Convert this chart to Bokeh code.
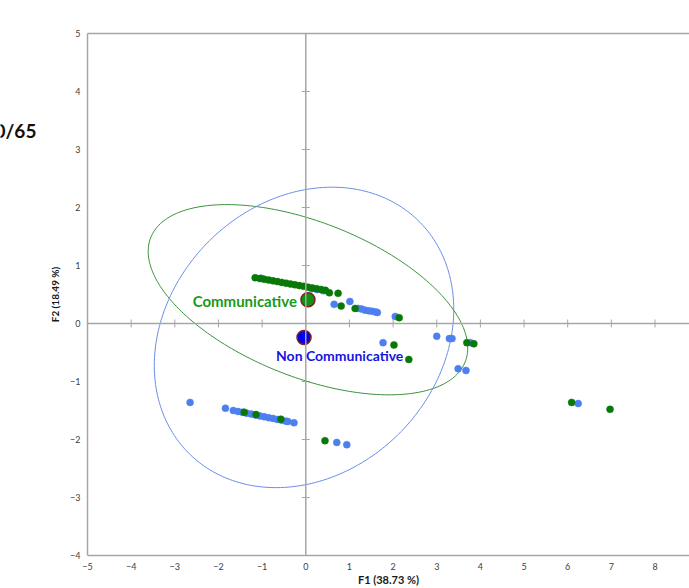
import numpy as np
from bokeh.plotting import figure
from bokeh.layouts import row
from bokeh.models import LinearAxis, Label, Range1d, FixedTicker, Span
from bokeh.core.properties import value
from bokeh.embed import file_html
from bokeh.resources import INLINE

# ---------------- data ----------------
x_ticks = [-5, -4, -3, -2, -1, 0, 1, 2, 3, 4, 5, 6, 7, 8]
y_ticks = [-4, -3, -2, -1, 0, 1, 2, 3, 4, 5]

x_title = "F1 (38.73 %)"
y_title = "F2 (18.49 %)"
side_title = "0/65"

# observations, group "Non Communicative" (blue)
non_x = [-1.02, 0.14, 0.26, 0.40,
         0.65, 1.01, 1.20, 1.28, 1.36, 1.44, 1.52, 1.60, 1.64, 2.05,
         1.77, 3.00, 3.29, 3.35, 3.77, 3.49, 3.67, 6.24,
         -2.65, -1.84, -1.66, -1.55, -1.45, -1.35, -1.25, -1.15, -1.05, -0.95,
         -0.85, -0.75, -0.65, -0.55, -0.45, -0.41, -0.27,
         0.71, 0.94]
non_y = [0.78, 0.60, 0.585, 0.565,
         0.33, 0.38, 0.26, 0.25, 0.23, 0.22, 0.21, 0.20, 0.19, 0.12,
         -0.33, -0.22, -0.26, -0.26, -0.33, -0.78, -0.81, -1.38,
         -1.36, -1.46, -1.50, -1.517, -1.532, -1.547, -1.562, -1.578, -1.593, -1.608,
         -1.623, -1.638, -1.654, -1.669, -1.684, -1.69, -1.71,
         -2.05, -2.09]

# observations, group "Communicative" (green)
comm_x = [-1.16, -1.05, -0.95, -0.85, -0.75, -0.65, -0.55, -0.45, -0.35, -0.25,
          -0.15, -0.05, 0.05, 0.15, 0.25, 0.35, 0.45, 0.54, 0.74,
          0.81, 1.13, 2.14,
          2.02, 2.36, 3.69, 3.85, 6.09, 6.97,
          -1.41, -1.14, -0.57, 0.44]
comm_y = [0.79, 0.775, 0.762, 0.749, 0.735, 0.722, 0.708, 0.695, 0.681, 0.668,
          0.654, 0.641, 0.627, 0.614, 0.600, 0.587, 0.573, 0.53, 0.52,
          0.30, 0.26, 0.10,
          -0.37, -0.62, -0.33, -0.35, -1.36, -1.48,
          -1.53, -1.57, -1.65, -2.02]

# group centroids
centroid_names = ["Communicative", "Non Communicative"]
centroid_x = [0.05, -0.04]
centroid_y = [0.41, -0.24]

# confidence ellipses (std x, std y, covariance), in data units
ell_sx = [3.66, 3.43]
ell_sy = [1.64, 2.59]
ell_cxy = [-3.05, 1.66]

# ---------------- styles ----------------
GREEN_PT = "#087808"
BLUE_PT = "#4d7ff0"
GREEN_ELL = "#3c913c"
BLUE_ELL = "#6a8ee8"
GREEN_TXT = "#1a9a1a"
BLUE_TXT = "#1515e0"
EDGE = "#7f1f1f"
AXIS_GRAY = "#a6a6a6"
FONT = "Lato"

SIDE_W = 40
H = 588
FRAME_TOP = 33
FRAME_BOTTOM = 555

# ---------- narrow strip on the left holding the (cut-off) side title ----------
# its frame is aligned by the row with the main frame, so map page pixels onto it
side = figure(width=SIDE_W, height=H, output_backend="svg", toolbar_location=None,
              title=None, x_range=Range1d(0, SIDE_W),
              y_range=Range1d(FRAME_BOTTOM, FRAME_TOP),
              min_border=0, x_axis_location=None, y_axis_location=None)
side.grid.visible = False
side.outline_line_color = None
side.text(x=[-6], y=[130], text=[side_title], text_align="left", text_baseline="middle",
          text_font=value(FONT), text_font_style="bold", text_font_size="19px",
          text_color="#111111")

# ---------------- main chart ----------------
p = figure(width=689 - SIDE_W, height=H, output_backend="svg", toolbar_location=None,
           x_range=Range1d(-5, 8.79), y_range=Range1d(-4, 5),
           min_border_left=87 - SIDE_W, min_border_right=0, min_border_top=FRAME_TOP,
           min_border_bottom=H - FRAME_BOTTOM, x_axis_location=None, y_axis_location=None)
p.grid.visible = False
p.outline_line_color = None
p.background_fill_color = "white"
p.border_fill_color = "white"

# border axes with labels
bx = LinearAxis(ticker=FixedTicker(ticks=x_ticks))
bx.major_tick_in = 0
bx.major_tick_out = 0
bx.minor_tick_line_color = None
bx.axis_line_color = AXIS_GRAY
bx.axis_line_width = 1.5
bx.major_label_standoff = 7
bx.major_label_text_font = FONT
bx.major_label_text_font_size = "9px"
bx.major_label_text_color = "#404040"
bx.axis_label = x_title
bx.axis_label_standoff = 0
bx.axis_label_text_font = FONT
bx.axis_label_text_font_style = "bold"
bx.axis_label_text_font_size = "11px"
bx.axis_label_text_color = "#1a1a1a"
p.add_layout(bx, "below")

ly = LinearAxis(ticker=FixedTicker(ticks=y_ticks))
ly.major_tick_in = 0
ly.major_tick_out = 0
ly.minor_tick_line_color = None
ly.axis_line_color = AXIS_GRAY
ly.axis_line_width = 1.5
ly.major_label_standoff = 7
ly.major_label_text_font = FONT
ly.major_label_text_font_size = "9px"
ly.major_label_text_color = "#404040"
ly.axis_label = y_title
ly.axis_label_standoff = 6
ly.axis_label_text_font = FONT
ly.axis_label_text_font_style = "bold"
ly.axis_label_text_font_size = "10px"
ly.axis_label_text_color = "#1a1a1a"
p.add_layout(ly, "left")

top = LinearAxis(ticker=FixedTicker(ticks=[]))
top.major_tick_in = 0
top.major_tick_out = 0
top.minor_tick_line_color = None
top.axis_line_color = AXIS_GRAY
top.axis_line_width = 1.5
p.add_layout(top, "above")

# centre cross with tick marks
p.add_layout(Span(location=0, dimension="height", line_color=AXIS_GRAY, line_width=1.5))
p.add_layout(Span(location=0, dimension="width", line_color=AXIS_GRAY, line_width=1.5))
p.scatter(x_ticks, [0] * len(x_ticks), marker="dash", size=8, angle=np.pi / 2,
          line_color=AXIS_GRAY, line_width=1)
p.scatter([0] * len(y_ticks), y_ticks, marker="dash", size=8,
          line_color=AXIS_GRAY, line_width=1)

# ellipses
t = np.linspace(0, 2 * np.pi, 241)
for i, col in enumerate([GREEN_ELL, BLUE_ELL]):
    cov = np.array([[ell_sx[i] ** 2, ell_cxy[i]], [ell_cxy[i], ell_sy[i] ** 2]])
    L = np.linalg.cholesky(cov)
    pts = L @ np.vstack([np.cos(t), np.sin(t)])
    p.line(centroid_x[i] + pts[0], centroid_y[i] + pts[1], line_color=col, line_width=1)

# observations
p.scatter(non_x, non_y, size=7, fill_color=BLUE_PT, line_color=BLUE_PT, line_width=0.5)
p.scatter(comm_x, comm_y, size=7, fill_color=GREEN_PT, line_color=GREEN_PT, line_width=0.5)

# centroids
p.scatter([centroid_x[0]], [centroid_y[0]], size=14, fill_color="#139013",
          line_color=EDGE, line_width=1.5)
p.scatter([centroid_x[1]], [centroid_y[1]], size=14, fill_color="#0000f5",
          line_color=EDGE, line_width=1.5)

p.add_layout(Label(x=centroid_x[0], y=centroid_y[0], x_offset=-11, y_offset=-1,
                   text=centroid_names[0], text_align="right", text_baseline="middle",
                   text_font=FONT, text_font_style="bold", text_font_size="15px",
                   text_color=GREEN_TXT))
p.add_layout(Label(x=centroid_x[1], y=centroid_y[1], x_offset=-28, y_offset=-18,
                   text=centroid_names[1], text_align="left", text_baseline="middle",
                   text_font=FONT, text_font_style="bold", text_font_size="14px",
                   text_color=BLUE_TXT))

layout = row(side, p, spacing=0)
open("out.html", "w").write(file_html(layout, INLINE))
